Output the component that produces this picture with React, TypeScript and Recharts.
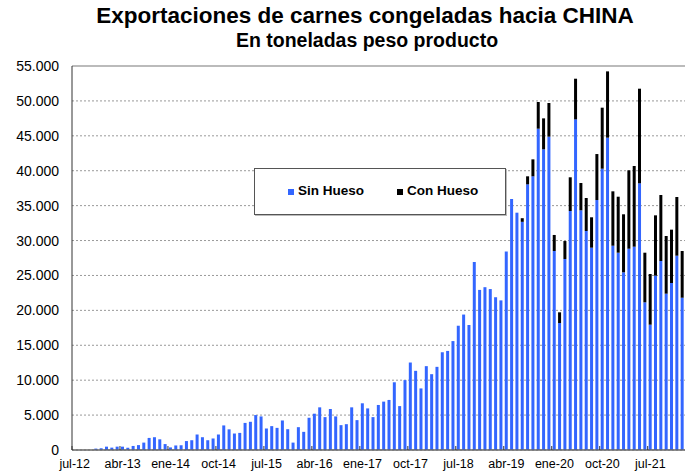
import { BarChart, Bar, XAxis, YAxis, CartesianGrid, ReferenceLine } from 'recharts'

const meses = [
  'jul-12', 'ago-12', 'sep-12', 'oct-12', 'nov-12', 'dic-12',
  'ene-13', 'feb-13', 'mar-13', 'abr-13', 'may-13', 'jun-13', 'jul-13', 'ago-13', 'sep-13', 'oct-13', 'nov-13', 'dic-13',
  'ene-14', 'feb-14', 'mar-14', 'abr-14', 'may-14', 'jun-14', 'jul-14', 'ago-14', 'sep-14', 'oct-14', 'nov-14', 'dic-14',
  'ene-15', 'feb-15', 'mar-15', 'abr-15', 'may-15', 'jun-15', 'jul-15', 'ago-15', 'sep-15', 'oct-15', 'nov-15', 'dic-15',
  'ene-16', 'feb-16', 'mar-16', 'abr-16', 'may-16', 'jun-16', 'jul-16', 'ago-16', 'sep-16', 'oct-16', 'nov-16', 'dic-16',
  'ene-17', 'feb-17', 'mar-17', 'abr-17', 'may-17', 'jun-17', 'jul-17', 'ago-17', 'sep-17', 'oct-17', 'nov-17', 'dic-17',
  'ene-18', 'feb-18', 'mar-18', 'abr-18', 'may-18', 'jun-18', 'jul-18', 'ago-18', 'sep-18', 'oct-18', 'nov-18', 'dic-18',
  'ene-19', 'feb-19', 'mar-19', 'abr-19', 'may-19', 'jun-19', 'jul-19', 'ago-19', 'sep-19', 'oct-19', 'nov-19', 'dic-19',
  'ene-20', 'feb-20', 'mar-20', 'abr-20', 'may-20', 'jun-20', 'jul-20', 'ago-20', 'sep-20', 'oct-20', 'nov-20', 'dic-20',
  'ene-21', 'feb-21', 'mar-21', 'abr-21', 'may-21', 'jun-21', 'jul-21', 'ago-21', 'sep-21', 'oct-21', 'nov-21', 'dic-21',
  'ene-22',
]

// toneladas, sin hueso
const sinHueso = [
  0, 0, 0, 0, 200, 250,
  480, 340, 480, 480, 340, 580, 700, 1060, 1730, 1830, 1530, 850,
  370, 650, 680, 1280, 1400, 2220, 1830, 1400, 1650, 2220, 3520, 2960,
  2360, 2450, 3880, 4040, 5000, 4810, 3080, 3420, 3170, 4230, 2980, 1060,
  3270, 2600, 4620, 5200, 6110, 4710, 5870, 4810, 3560, 3700, 6110, 4280,
  6690, 5960, 4710, 6450, 6930, 7170, 9700, 6290, 10010, 12530, 11340, 8820,
  12010, 10860, 11910, 14000, 14190, 15600, 17800, 19400, 17900, 26930, 22930, 23320,
  23050, 21880, 21430, 28430, 35950, 33990, 32680, 38050, 39200, 46020, 43070, 44880,
  28500, 18190, 27360, 34230, 47360, 34330, 31370, 28980, 35800, 40290, 44730, 29260,
  28260, 25450, 28830, 29120, 38200, 21150, 17950, 24970, 27070, 22390, 23920, 27830,
  21810,
]

// toneladas, con hueso
const conHueso = [
  0, 0, 0, 0, 0, 0,
  0, 0, 0, 0, 0, 0, 0, 0, 0, 0, 0, 0,
  0, 0, 0, 0, 0, 0, 0, 0, 0, 0, 0, 0,
  0, 0, 0, 0, 0, 0, 0, 0, 0, 0, 0, 0,
  0, 0, 0, 0, 0, 0, 0, 0, 0, 0, 0, 0,
  0, 0, 0, 0, 0, 0, 0, 0, 0, 0, 0, 0,
  0, 0, 0, 0, 0, 0, 0, 0, 0, 0, 0, 0,
  0, 0, 0, 0, 0, 0, 520, 1150, 2430, 3820, 4430, 4820,
  2300, 1530, 2570, 4830, 5820, 3910, 4720, 4350, 6590, 8740, 9500, 7790,
  8020, 8310, 11230, 11560, 13550, 7110, 7260, 8640, 9450, 8260, 7640, 8410,
  6690,
]

const yTicks = [0, 5000, 10000, 15000, 20000, 25000, 30000, 35000, 40000, 45000, 50000, 55000]

const data = meses.map((mes, i) => ({ mes, sinHueso: sinHueso[i], conHueso: conHueso[i] }))

const FONT = '"Liberation Sans", Arial, sans-serif'
const AZUL = '#3366ff'
const BAND = 613 / meses.length

function fmt(v: number) {
  return String(v).replace(/\B(?=(\d{3})+(?!\d))/g, '.')
}

function XTick({ x, y, payload }: any) {
  return (
    <g>
      <line x1={x - BAND / 2} x2={x - BAND / 2} y1={y} y2={y - 4} stroke="#333" strokeWidth={1} />
      <text x={x} y={y + 18} textAnchor="middle" fontSize={12.5} fontFamily={FONT} fill="#000">
        {payload.value}
      </text>
    </g>
  )
}

export default function App() {
  return (
    <div style={{ position: 'absolute', left: 0, top: 0, width: 687, height: 472, background: '#fff', fontFamily: FONT }}>
      <div style={{ position: 'absolute', left: 0, width: 730, top: 3, textAlign: 'center', fontSize: 22.5, fontWeight: 'bold', lineHeight: '25px' }}>
        Exportaciones de carnes congeladas hacia CHINA
      </div>
      <div style={{ position: 'absolute', left: 0, width: 734, top: 29, textAlign: 'center', fontSize: 19.5, fontWeight: 'bold', lineHeight: '22px' }}>
        En toneladas peso producto
      </div>

      <BarChart width={687} height={472} data={data} margin={{ top: 66, right: 2, left: 0, bottom: 0 }} barSize={3}>
        <CartesianGrid horizontal vertical={false} stroke="#999" strokeDasharray="2 2" />
        <ReferenceLine y={55000} stroke="#bbb" strokeWidth={2} />
        <XAxis
          dataKey="mes"
          interval={8}
          height={22}
          tickSize={0}
          tickMargin={0}
          tickLine={false}
          axisLine={{ stroke: '#666', strokeWidth: 1.5 }}
          tick={<XTick />}
        />
        <YAxis
          width={72}
          domain={[0, 55000]}
          ticks={yTicks}
          tickFormatter={fmt}
          tickSize={0}
          tickMargin={13}
          tickLine={false}
          axisLine={{ stroke: '#333' }}
          tick={{ fontSize: 14, fill: '#000', fontFamily: FONT }}
        />
        <Bar dataKey="sinHueso" stackId="a" fill={AZUL} isAnimationActive={false} />
        <Bar dataKey="conHueso" stackId="a" fill="#000" isAnimationActive={false} />
      </BarChart>

      <div
        style={{
          position: 'absolute',
          left: 254,
          top: 168,
          width: 250,
          height: 45,
          border: '1px solid #555',
          background: '#fff',
          boxShadow: '1px 1px 0 #bbb',
          fontSize: 13.5,
          fontWeight: 'bold',
        }}
      >
        <span style={{ position: 'absolute', left: 33, top: 20, width: 6, height: 6, background: AZUL }} />
        <span style={{ position: 'absolute', left: 43, top: 14, lineHeight: '16px' }}>Sin Hueso</span>
        <span style={{ position: 'absolute', left: 142, top: 20, width: 6, height: 6, background: '#000' }} />
        <span style={{ position: 'absolute', left: 152, top: 14, lineHeight: '16px' }}>Con Hueso</span>
      </div>
    </div>
  )
}
